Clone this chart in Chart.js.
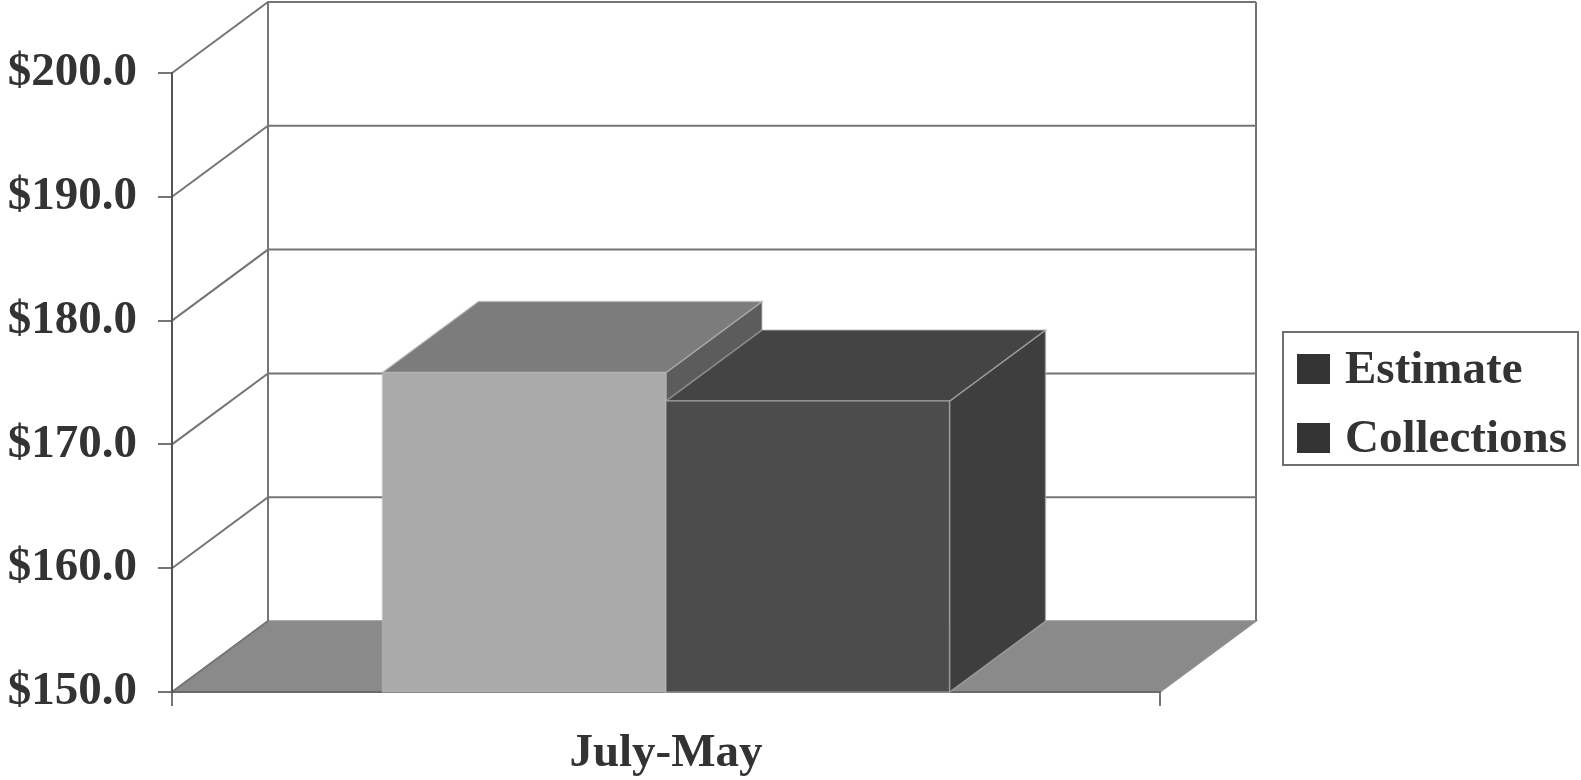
<!DOCTYPE html>
<html>
<head>
<meta charset="utf-8">
<title>Estimate vs Collections, July-May</title>
<script src="https://cdn.jsdelivr.net/npm/chart.js@4.4.1/dist/chart.umd.min.js"></script>
<style>
  html, body { margin: 0; padding: 0; background: #ffffff; }
  #wrap { width: 1581px; height: 780px; position: relative; }
  canvas { display: block; }
</style>
</head>
<body>
<div id="wrap"><canvas id="chart" width="1581" height="780"></canvas></div>
<script>
// ---- data ----
const categories = ['July-May'];
const seriesLabels = ['Estimate', 'Collections'];
const estimateValues = [175.8];
const collectionsValues = [173.5];
const yMin = 150;
const yMax = 200;
const yStep = 10;

// ---- styling ----
const SERIF = '"Liberation Serif", "Times New Roman", Times, serif';
const TEXT_COLOR = '#333333';
const LINE_COLOR = '#757575';
const DEPTH_X = 96;   // horizontal depth offset of the 3-D box
const DEPTH_Y = 71;   // vertical depth offset of the 3-D box
const FLOOR_COLOR = '#8a8a8a';
const faceColors = [
  { front: '#aaaaaa', top: '#7c7c7c', side: '#5c5c5c', key: '#333333' },
  { front: '#4c4c4c', top: '#444444', side: '#3e3e3e', key: '#333333' }
];

function poly(ctx, pts, fill) {
  ctx.beginPath();
  ctx.moveTo(pts[0][0], pts[0][1]);
  for (let i = 1; i < pts.length; i++) ctx.lineTo(pts[i][0], pts[i][1]);
  ctx.closePath();
  ctx.fillStyle = fill;
  ctx.fill();
  ctx.strokeStyle = 'rgba(185,185,185,0.55)';
  ctx.lineWidth = 1.5;
  ctx.stroke();
}

// back wall, side wall and floor of the 3-D box
const boxPlugin = {
  id: 'box3d',
  beforeDraw(chart) {
    const { ctx, chartArea: a, scales: { y } } = chart;
    const floorY = y.getPixelForValue(yMin);
    const topY = y.getPixelForValue(yMax);
    ctx.save();
    // floor
    ctx.beginPath();
    ctx.moveTo(a.left, floorY);
    ctx.lineTo(a.right, floorY);
    ctx.lineTo(a.right + DEPTH_X, floorY - DEPTH_Y);
    ctx.lineTo(a.left + DEPTH_X, floorY - DEPTH_Y);
    ctx.closePath();
    ctx.fillStyle = FLOOR_COLOR;
    ctx.fill();
    ctx.strokeStyle = '#8f8f8f';
    ctx.lineWidth = 1.5;
    ctx.stroke();

    ctx.strokeStyle = LINE_COLOR;
    ctx.lineWidth = 2;
    // gridlines: diagonal on the side wall, horizontal on the back wall
    for (let v = yMin; v <= yMax; v += yStep) {
      const py = y.getPixelForValue(v);
      ctx.beginPath();
      ctx.moveTo(a.left, py);
      ctx.lineTo(a.left + DEPTH_X, py - DEPTH_Y);
      if (v > yMin) ctx.lineTo(a.right + DEPTH_X, py - DEPTH_Y);
      ctx.stroke();
    }
    // back wall edges
    ctx.beginPath();
    ctx.moveTo(a.left + DEPTH_X, topY - DEPTH_Y);
    ctx.lineTo(a.left + DEPTH_X, floorY - DEPTH_Y);
    ctx.moveTo(a.right + DEPTH_X, topY - DEPTH_Y);
    ctx.lineTo(a.right + DEPTH_X, floorY - DEPTH_Y);
    ctx.stroke();
    ctx.restore();
  },
  // bars drawn as boxes from the library's bar elements, standing on the floor
  beforeDatasetsDraw(chart) {
    const ctx = chart.ctx;
    const floorY = chart.scales.y.getPixelForValue(yMin);
    ctx.save();
    chart.data.datasets.forEach((ds, i) => {
      const meta = chart.getDatasetMeta(i);
      const c = faceColors[i];
      meta.data.forEach(el => {
        const { x, y, base, width } = el.getProps(['x', 'y', 'base', 'width'], true);
        const b = Math.min(base, floorY);
        const l = x - width / 2, r = x + width / 2;
        poly(ctx, [[r, y], [r + DEPTH_X, y - DEPTH_Y], [r + DEPTH_X, b - DEPTH_Y], [r, b]], c.side);
        poly(ctx, [[l, y], [r, y], [r + DEPTH_X, y - DEPTH_Y], [l + DEPTH_X, y - DEPTH_Y]], c.top);
        poly(ctx, [[l, y], [r, y], [r, b], [l, b]], c.front);
      });
    });
    ctx.restore();
    return false;
  },
  // boxed legend at the right
  afterDraw(chart) {
    const ctx = chart.ctx;
    ctx.save();
    const bx = 1283, by = 332, bw = 295, bh = 133;
    ctx.fillStyle = '#ffffff';
    ctx.fillRect(bx, by, bw, bh);
    ctx.strokeStyle = '#6f6f6f';
    ctx.lineWidth = 2;
    ctx.strokeRect(bx, by, bw, bh);
    ctx.font = 'bold 47px ' + SERIF;
    ctx.textBaseline = 'alphabetic';
    ctx.textAlign = 'left';
    chart.data.datasets.forEach((ds, i) => {
      const baseY = 383 + i * 69;
      ctx.fillStyle = faceColors[i].key;
      ctx.fillRect(1297, baseY - 29, 33, 30);
      ctx.fillStyle = TEXT_COLOR;
      ctx.fillText(ds.label, 1345, baseY);
    });
    ctx.restore();
  }
};

const tickFont = { family: SERIF, size: 47, weight: 'bold' };

new Chart(document.getElementById('chart'), {
  type: 'bar',
  data: {
    labels: categories,
    datasets: [
      { label: seriesLabels[0], data: estimateValues, backgroundColor: faceColors[0].front },
      { label: seriesLabels[1], data: collectionsValues, backgroundColor: faceColors[1].front }
    ]
  },
  options: {
    responsive: false,
    animation: false,
    devicePixelRatio: 1,
    categoryPercentage: 0.574,
    barPercentage: 1.0,
    layout: { padding: { top: 73, right: 421, bottom: 0, left: 0 } },
    plugins: {
      legend: { display: false },
      tooltip: { enabled: false }
    },
    scales: {
      x: {
        ticks: { color: TEXT_COLOR, font: tickFont, padding: 20 },
        grid: { drawOnChartArea: false, drawTicks: true, tickLength: 14, color: LINE_COLOR, lineWidth: 2, offset: true },
        border: { display: true, color: '#6a6a6a', width: 2 },
        afterFit(s) { s.height = 88; }
      },
      y: {
        min: yMin,
        max: yMax,
        ticks: {
          stepSize: yStep,
          color: TEXT_COLOR,
          font: tickFont,
          padding: 21,
          callback: v => '$' + Number(v).toFixed(1)
        },
        grid: { drawOnChartArea: false, drawTicks: true, tickLength: 14, color: LINE_COLOR, lineWidth: 2 },
        border: { display: true, color: '#555555', width: 2 },
        afterFit(s) { s.width = 172; }
      }
    }
  },
  plugins: [boxPlugin]
});
</script>
</body>
</html>
